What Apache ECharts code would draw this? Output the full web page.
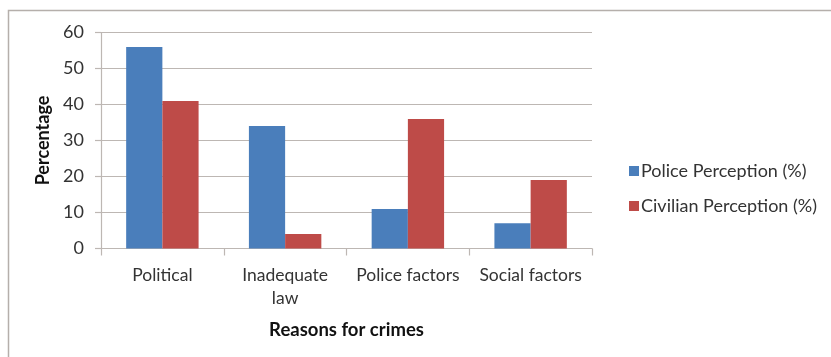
<!DOCTYPE html>
<html>
<head>
<meta charset="utf-8">
<script src="https://cdn.jsdelivr.net/npm/echarts@6/dist/echarts.min.js"></script>
<style>
  html, body { margin: 0; padding: 0; background: #ffffff; }
  #chart { width: 831px; height: 357px; }
</style>
</head>
<body>
<div id="chart"></div>
<script>
// Reasons for crimes: police vs civilian perception
const categories = ['Political', 'Inadequate\nlaw', 'Police factors', 'Social factors'];
const policePerception = [56, 34, 11, 7];
const civilianPerception = [41, 4, 36, 19];
const seriesNames = ['Police Perception (%)', 'Civilian Perception (%)'];

const FONT = 'Lato';
const TEXT = '#333333';
const LINE = '#bdb7b3';

const chart = echarts.init(document.getElementById('chart'), null, { renderer: 'canvas' });

chart.setOption({
  backgroundColor: '#ffffff',
  animation: false,
  textStyle: { fontFamily: FONT },
  graphic: [{
    type: 'rect',
    shape: { x: 8.5, y: 10.5, width: 840, height: 360 },
    style: { fill: 'none', stroke: '#b5afab', lineWidth: 1.5 },
    silent: true
  }],
  grid: { left: 101, right: 239, top: 32.5, bottom: 108.5 },
  legend: {
    orient: 'vertical',
    left: 624,
    top: 157,
    itemWidth: 10,
    itemHeight: 10,
    itemGap: 17,
    icon: 'rect',
    textStyle: { fontFamily: FONT, fontSize: 18, color: TEXT, padding: [0, 0, 0, -3] },
    data: seriesNames
  },
  xAxis: {
    type: 'category',
    data: categories,
    name: 'Reasons for crimes',
    nameLocation: 'middle',
    nameGap: 72,
    nameTextStyle: { fontFamily: FONT, fontSize: 18.5, fontWeight: 'bold', color: '#111111' },
    axisLine: { lineStyle: { color: LINE, width: 1.2 } },
    axisTick: { show: true, length: 7, lineStyle: { color: LINE, width: 1.2 } },
    axisLabel: { margin: 15, fontFamily: FONT, fontSize: 17.5, color: TEXT, lineHeight: 23, interval: 0 }
  },
  yAxis: {
    type: 'value',
    min: 0,
    max: 60,
    interval: 10,
    name: 'Percentage',
    nameLocation: 'middle',
    nameGap: 45,
    nameRotate: 90,
    nameTextStyle: { fontFamily: FONT, fontSize: 18, fontWeight: 'bold', color: '#111111' },
    axisLine: { show: true, lineStyle: { color: LINE, width: 1.2 } },
    axisTick: { show: true, length: 6, lineStyle: { color: LINE, width: 1.2 } },
    axisLabel: { margin: 17, fontFamily: FONT, fontSize: 18, color: TEXT },
    splitLine: { lineStyle: { color: LINE, width: 1.2 } }
  },
  series: [
    {
      name: seriesNames[0],
      type: 'bar',
      data: policePerception,
      barGap: '0%',
      barCategoryGap: '41%',
      itemStyle: { color: '#4a7ebb' }
    },
    {
      name: seriesNames[1],
      type: 'bar',
      data: civilianPerception,
      barGap: '0%',
      barCategoryGap: '41%',
      itemStyle: { color: '#be4b48' }
    }
  ]
});
</script>
</body>
</html>
